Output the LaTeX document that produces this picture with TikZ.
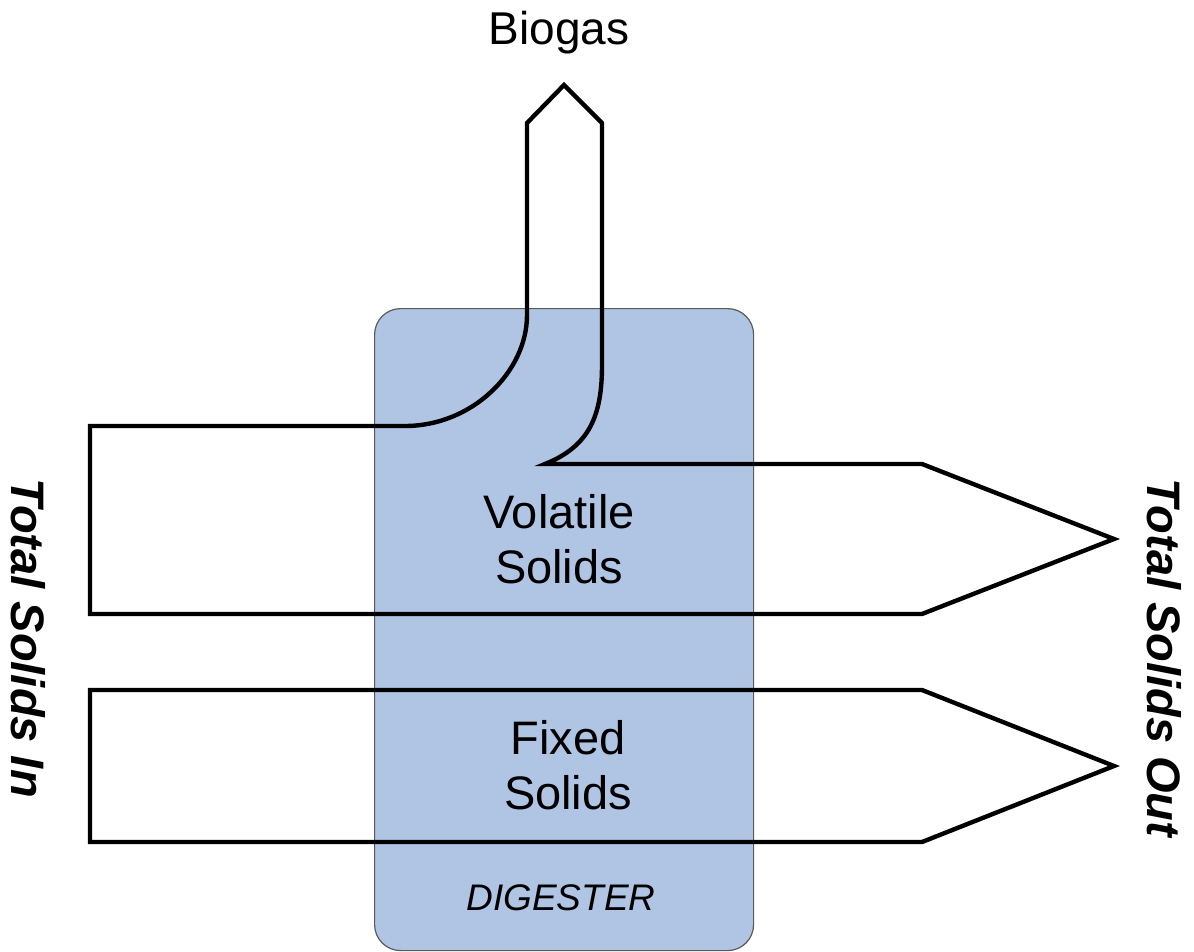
\documentclass[tikz,border=0pt]{standalone}
\usepackage{fontspec}
\setmainfont{Liberation Sans}
\definecolor{tankfill}{RGB}{176,196,228}
\definecolor{tankedge}{RGB}{90,90,90}
\begin{document}
\begin{tikzpicture}[x=1pt,y=-1pt,
  flow/.style={draw=black,line width=4.4pt,line join=miter},
  tank/.style={draw=tankedge,line width=1.2pt,fill=tankfill,rounded corners=26pt,
    minimum width=379pt,minimum height=642pt,inner sep=0pt,anchor=north west},
  lbl/.style={font=\fontsize{47}{55}\selectfont,align=center,inner sep=0pt},
  side/.style={font=\fontsize{47}{55}\selectfont\bfseries\itshape,rotate=-90,inner sep=0pt}]
\useasboundingbox (0,0) rectangle (1194,952);

% digester vessel
\node[tank] (digester) at (374,308) {};

% volatile solids stream, with the biogas branch leaving upward
\coordinate (vsin) at (90,426);
\coordinate (gasL) at (527,123);
\coordinate (gasTip) at (564,85);
\coordinate (gasR) at (602,123);
\coordinate (vsTip) at (1114,539);
\draw[flow] (vsin) -- (405,426)
  .. controls (472,426) and (527,372) .. (527,315)
  -- (gasL) -- (gasTip) -- (gasR) -- (602,365)
  .. controls (602,415) and (590,446) .. (545,464)
  -- (922,464) -- (vsTip) -- (922,614) -- (90,614) -- cycle;

% fixed solids stream
\coordinate (fsin) at (90,690);
\coordinate (fsTip) at (1114,766);
\draw[flow] (fsin) -- (922,690) -- (fsTip) -- (922,842) -- (90,842) -- cycle;

% labels
\node[font=\fontsize{46}{52}\selectfont,inner sep=0pt,anchor=base] (biogas) at (559,45) {Biogas};
\node[lbl] (volatile) at (559,539) {Volatile\\Solids};
\node[lbl] (fixed) at (568,765) {Fixed\\Solids};
\node[font=\fontsize{37}{42}\selectfont\itshape,inner sep=0pt,anchor=base] (digname) at (561,910) {DIGESTER};
\node[side] (tsin) at (28,638) {Total Solids In};
\node[side] (tsout) at (1164,658) {Total Solids Out};
\end{tikzpicture}
\end{document}
